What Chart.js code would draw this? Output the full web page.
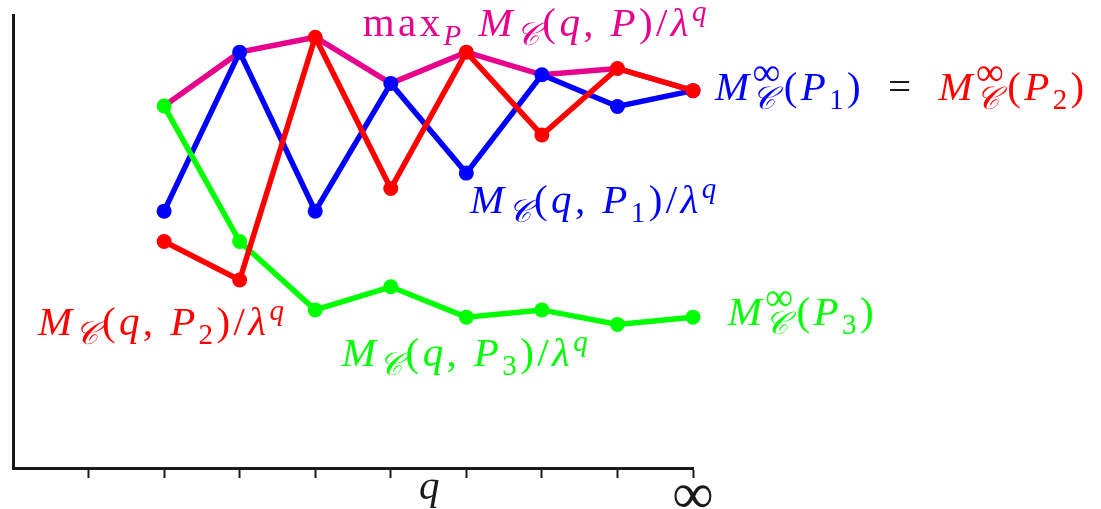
<!DOCTYPE html>
<html>
<head>
<meta charset="utf-8">
<script src="https://cdn.jsdelivr.net/npm/chart.js@4.4.0/dist/chart.umd.min.js"></script>
<style>
    html, body { margin: 0; padding: 0; background: #ffffff; }
    #wrap { width: 1101px; height: 509px; }
</style>
</head>
<body>
<div id="wrap"><canvas id="chart"></canvas></div>
<script>

// q positions along the axis, the last one stands for q = infinity
const q_steps = [2, 3, 4, 5, 6, 7, 8, 9];

// M_C(q, P_k) / lambda^q (arbitrary units, axis 0..100)
const p1_values = [56.7, 91.8, 56.7, 84.9, 65.1, 86.8, 79.8, 83.3];
const p2_values = [50.0, 41.5, 95.1, 61.7, 91.8, 73.5, 88.2, 83.3];
const p3_values = [79.9, 50.0, 34.9, 40.0, 33.3, 34.9, 31.7, 33.3];
const max_values = [79.9, 91.8, 95.1, 84.9, 91.8, 86.8, 88.2, 83.3];

const tick_positions = [1, 2, 3, 4, 5, 6, 7, 8, 9];
const tick_labels = ["", "", "", "", "", "", "", "", "\u221E"];

const BLUE = "#0000ff";
const RED = "#ff0000";
const GREEN = "#00ff00";
const MAGENTA = "#e6008c";
const BLACK = "#1a1a1a";

const MATH_FONT = '"Liberation Serif", "DejaVu Serif", serif';
const BASE_SIZE = 41;
const GLYPH_GAP = 3.4;

// runs: [text, style, color, stack, scale]
// style: first letter n = normal, s = subscript, p = superscript; second letter i = italic, r = roman
function curveLabel(color, k) {
    const runs = [
        ["M", "ni", color], ["\uD835\uDC9E", "si", color, false, 1.12], ["(", "nr", color], ["q", "ni", color],
        [",", "nr", color], [" ", "nr", color], ["P", "ni", color]
    ];
    if (k) runs.push([String(k), "sr", color]);
    return runs.concat([[")", "nr", color], ["/", "nr", color], ["\u03BB", "ni", color], ["q", "pi", color]]);
}

function limitLabel(color, k) {
    return [
        ["M", "ni", color], ["\uD835\uDC9E", "si", color, true, 1.12], ["\u221E", "pr", color, false, 1.35],
        ["(", "nr", color], ["P", "ni", color], [String(k), "sr", color], [")", "nr", color]
    ];
}

const text_labels = [
    { x: 4.63, y: 95.4, runs: [["max", "nr", MAGENTA], ["P", "si", MAGENTA], [" ", "nr", MAGENTA]].concat(curveLabel(MAGENTA, 0)) },
    { x: 9.29, y: 81.2, runs: limitLabel(BLUE, 1).concat([["\u2002=\u2002", "nr", BLACK]], limitLabel(RED, 2)) },
    { x: 6.05, y: 56.3, runs: curveLabel(BLUE, 1) },
    { x: 0.33, y: 29.4, runs: curveLabel(RED, 2) },
    { x: 4.35, y: 22.5, runs: curveLabel(GREEN, 3) },
    { x: 9.46, y: 31.6, runs: limitLabel(GREEN, 3) }
];

function fontFor(style, scale) {
    const small = style[0] !== "n";
    const italic = style[1] === "i";
    const size = Math.round((small ? BASE_SIZE * 0.7 : BASE_SIZE) * (scale || 1));
    return (italic ? "italic " : "") + size + "px " + MATH_FONT;
}

function shiftFor(style) {
    if (style[0] === "s") return BASE_SIZE * 0.22;
    if (style[0] === "p") return -BASE_SIZE * 0.36;
    return 0;
}

// draws char by char, a little looser than the font, like the TeX original
function drawMath(ctx, x, y, runs) {
    let held = 0;
    runs.forEach(([text, style, color, stack, scale]) => {
        ctx.font = fontFor(style, scale);
        ctx.fillStyle = color;
        let w = 0;
        Array.from(text).forEach(ch => {
            ctx.fillText(ch, x + w, y + shiftFor(style));
            w += ctx.measureText(ch).width + GLYPH_GAP;
        });
        if (stack) {
            held = w;
        } else {
            x += Math.max(w, held);
            held = 0;
        }
    });
}

const mathLabels = {
    id: "mathLabels",
    afterDraw(chart) {
        const ctx = chart.ctx;
        const xs = chart.scales.x;
        const ys = chart.scales.y;
        ctx.save();
        ctx.textAlign = "left";
        ctx.textBaseline = "alphabetic";
        text_labels.forEach(l => drawMath(ctx, xs.getPixelForValue(l.x), ys.getPixelForValue(l.y), l.runs));

        // tick labels
        ctx.fillStyle = BLACK;
        ctx.textAlign = "center";
        ctx.textBaseline = "middle";
        ctx.font = "58px " + MATH_FONT;
        tick_positions.forEach((v, i) => {
            if (tick_labels[i]) ctx.fillText(tick_labels[i], xs.getPixelForValue(v), ys.bottom + 30);
        });

        // axis name, sits between two ticks
        ctx.textBaseline = "alphabetic";
        ctx.font = "italic " + BASE_SIZE + "px " + MATH_FONT;
        ctx.fillText("q", xs.getPixelForValue(5.51), ys.bottom + 31);
        ctx.restore();
    }
};

function series(values, color, order, radius) {
    return {
        data: values.map((v, i) => ({ x: q_steps[i], y: v })),
        borderColor: color,
        backgroundColor: color,
        pointBackgroundColor: color,
        borderWidth: 5.5,
        pointRadius: radius,
        pointBorderWidth: 0,
        pointHoverRadius: radius,
        tension: 0,
        clip: false,
        order: order
    };
}

new Chart(document.getElementById("chart"), {
    type: "line",
    data: {
        datasets: [
            series(max_values, MAGENTA, 4, 0),
            series(p1_values, BLUE, 3, 7.5),
            series(p3_values, GREEN, 2, 7.5),
            series(p2_values, RED, 1, 7.5)
        ]
    },
    options: {
        responsive: true,
        maintainAspectRatio: false,
        animation: false,
        devicePixelRatio: 1,
        layout: { padding: { left: 13, right: 408, top: 15, bottom: 31 } },
        plugins: { legend: { display: false }, tooltip: { enabled: false } },
        scales: {
            x: {
                type: "linear",
                min: 0,
                max: 9,
                afterBuildTicks: axis => { axis.ticks = tick_positions.map(v => ({ value: v })); },
                ticks: { display: false },
                grid: {
                    drawOnChartArea: false,
                    drawTicks: true,
                    tickLength: 10,
                    tickWidth: 2,
                    tickColor: BLACK
                },
                border: { display: true, color: BLACK, width: 3 }
            },
            y: {
                min: 0,
                max: 100,
                ticks: { display: false },
                grid: { display: false, drawTicks: false },
                border: { display: true, color: BLACK, width: 3 }
            }
        }
    },
    plugins: [mathLabels]
});
</script>
</body>
</html>
